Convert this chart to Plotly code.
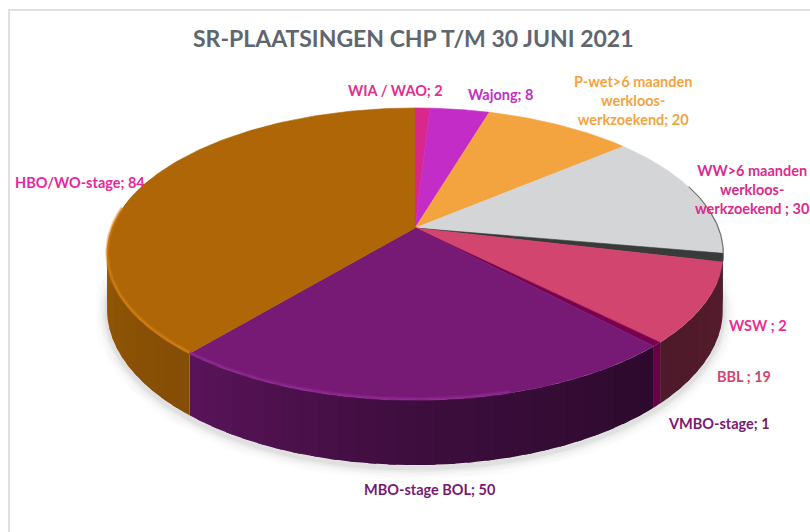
import numpy as np
import plotly.graph_objects as go

# Data
categories = ["WIA / WAO", "Wajong", "P-wet>6 maanden werkloos-werkzoekend",
              "WW>6 maanden werkloos-werkzoekend", "WSW", "BBL",
              "VMBO-stage", "MBO-stage BOL", "HBO/WO-stage"]
values = [2, 8, 20, 30, 2, 19, 1, 50, 84]
slice_colors = ["#D9278B", "#C42CC8", "#F3A43F", "#D4D5D7", "#3A3A3A",
                "#D2456E", "#7A0050", "#761A76", "#AE6606"]
wall_gain = [1, 1, 1, 1, 1, 1, 2.3, 1, 1]
label_texts = ["WIA / WAO; 2", "Wajong; 8", "P-wet>6 maanden<br>werkloos-<br>werkzoekend; 20",
               "WW>6 maanden<br>werkloos-<br>werkzoekend ; 30", "WSW ; 2", "BBL ; 19",
               "VMBO-stage; 1", "MBO-stage BOL; 50", "HBO/WO-stage; 84"]
label_colors = ["#E0308F", "#C42CC8", "#F3A43F", "#DB2A8E", "#EC2C94",
                "#D2456E", "#7A1A6F", "#761A76", "#E8279B"]
label_x = [395, 500, 633, 752, 758, 744, 719, 430, 80]
label_y = [90, 94, 100, 189, 325, 376, 423, 489, 182]
title_text = "SR-PLAATSINGEN CHP T/M 30 JUNI 2021"

# Perspective disc projection, in page pixels
CX, CY, RX, RY, K, DEPTH = 415, 228, 303, 141.4, 0.178, 53.4
SHADE_ANGLE = [90, 135, 180, 220, 270, 290]
SHADE_FACTOR = [0.42, 0.37, 0.52, 0.76, 0.86, 0.9]


def project(theta_deg, drop=0.0):
    t = np.radians(theta_deg)
    X, Y = np.sin(t), np.cos(t)
    w = 1 + K * Y
    return CX + RX * X / w, CY - RY * Y / w + drop * DEPTH / w


def rgb(hex_color):
    return np.array([int(hex_color[i:i + 2], 16) for i in (1, 3, 5)], dtype=float)


def css(c, alpha=None):
    r, g, b = [int(round(min(255, max(0, v)))) for v in c]
    return f"rgb({r},{g},{b})" if alpha is None else f"rgba({r},{g},{b},{alpha})"


fractions = np.cumsum([0] + values) / sum(values) * 360
fig = go.Figure()

# Soft shadow under the front rim
th = np.linspace(88, 288, 200)
sx, sy = project(th, 1.0)
for width, alpha in [(26, 0.012), (20, 0.016), (14, 0.022), (9, 0.03), (5, 0.04)]:
    fig.add_trace(go.Scatter(x=sx, y=sy + 3, mode="lines", hoverinfo="skip",
                             line=dict(color=f"rgba(0,0,0,{alpha})", width=width)))

# Side wall, in strips shaded along the rim (overlapping, so no seams show)
for a0, a1, col, gain in zip(fractions[:-1], fractions[1:], slice_colors, wall_gain):
    lo, hi = max(a0, 80), min(a1, 292)
    if hi <= lo:
        continue
    n = max(1, int((hi - lo) / 3))
    edges = np.linspace(lo, hi, n + 1)
    for e0, e1 in zip(edges[:-1], edges[1:]):
        f = np.interp((e0 + e1) / 2, SHADE_ANGLE, SHADE_FACTOR) * gain
        c = css(rgb(col) * f)
        tt = np.linspace(e0, min(e1 + (hi - lo) / n * 0.4, hi), 4)
        x0, y0 = project(tt, 0)
        x1, y1 = project(tt[::-1], 1)
        fig.add_trace(go.Scatter(x=np.r_[x0, x1, x0[0]], y=np.r_[y0, y1, y0[0]],
                                 mode="none", fill="toself", fillcolor=c, hoverinfo="skip"))

# Top surface
for name, a0, a1, col in zip(categories, fractions[:-1], fractions[1:], slice_colors):
    tt = np.linspace(a0, a1, max(3, int(a1 - a0) + 2))
    x, y = project(tt)
    fig.add_trace(go.Scatter(x=np.r_[CX, x, CX], y=np.r_[CY, y, CY], name=name,
                             mode="lines", fill="toself", fillcolor=col, hoverinfo="name",
                             line=dict(color=col, width=0.6)))

# Rim highlight on the front-left edge
for a0, a1, col in zip(fractions[:-1], fractions[1:], slice_colors):
    lo, hi = max(a0, 165), min(a1, 278)
    if hi <= lo:
        continue
    tt = np.linspace(lo, hi, max(3, int(hi - lo) + 2))
    x, y = project(tt)
    c = rgb(col)
    for width, alpha in [(4, 0.3), (2, 0.5)]:
        fig.add_trace(go.Scatter(x=x, y=y - 1, mode="lines", hoverinfo="skip",
                                 line=dict(color=css(c * 1.18 + 12, alpha), width=width)))

# Dark rim on the right back edge
tt = np.linspace(72, 103, 40)
x, y = project(tt)
fig.add_trace(go.Scatter(x=x + 0.5, y=y, mode="lines", hoverinfo="skip",
                         line=dict(color="rgba(70,70,70,0.7)", width=1.2)))

annotations = [dict(x=x, y=y, text=t, showarrow=False, xref="x", yref="y",
                    xanchor="center", yanchor="middle",
                    font=dict(family="Lato", size=14.5, color=c, weight="bold"))
               for t, c, x, y in zip(label_texts, label_colors, label_x, label_y)]
annotations.append(dict(x=413, y=38, text=title_text, showarrow=False, xref="x", yref="y",
                        xanchor="center", yanchor="middle",
                        font=dict(family="Lato", size=23, color="#5E6670", weight="bold")))

fig.update_layout(
    width=810, height=532, margin=dict(l=0, r=0, t=0, b=0),
    paper_bgcolor="white", plot_bgcolor="white", showlegend=False,
    xaxis=dict(range=[0, 810], visible=False, fixedrange=True),
    yaxis=dict(range=[532, 0], visible=False, fixedrange=True),
    annotations=annotations,
    shapes=[dict(type="rect", xref="x", yref="y", x0=9, y0=10, x1=830, y1=560,
                 line=dict(color="#E0E0E0", width=2), layer="below")],
)
fig.write_html("out.html", config={"displayModeBar": False},
               post_script="document.body.style.margin='0';document.body.style.overflow='hidden';")
